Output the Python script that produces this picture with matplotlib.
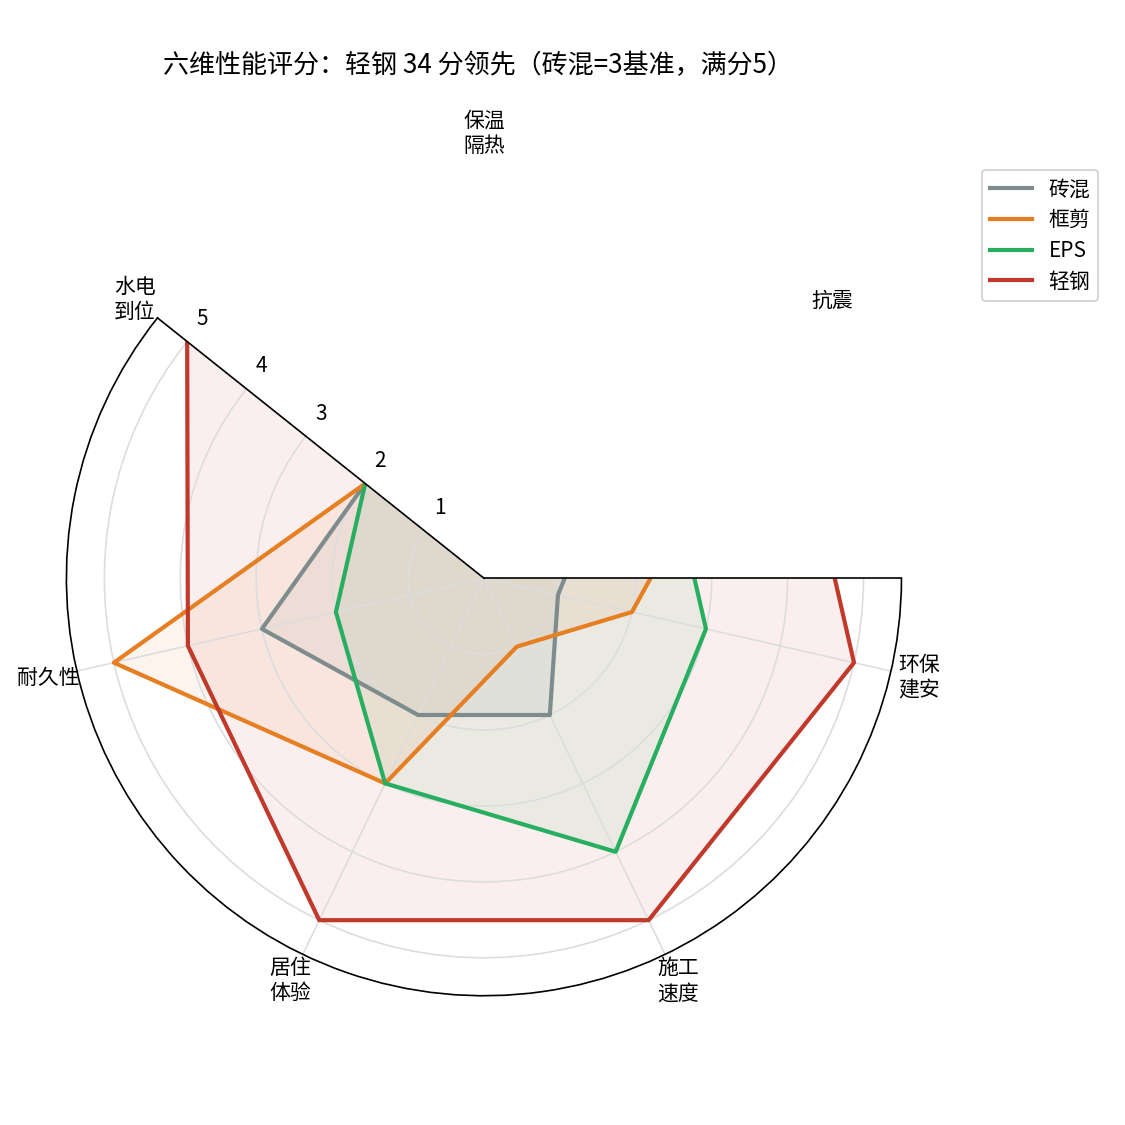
import numpy as np
import matplotlib
matplotlib.use("Agg")
import matplotlib.pyplot as plt

plt.rcParams['font.family'] = ['Noto Sans CJK SC', 'DejaVu Sans']

categories = ['保温\n隔热', '抗震', '环保\n建安', '施工\n速度', '居住\n体验', '耐久性', '水电\n到位']
series_names = ['砖混', '框剪', 'EPS', '轻钢']
brick = [3, 2, 1, 2, 2, 3, 2]
frame = [3, 5, 2, 1, 3, 5, 2]
eps = [5, 3, 3, 4, 3, 2, 2]
steel = [5, 5, 5, 5, 5, 4, 5]
r_ticks = [1, 2, 3, 4, 5]
colors = ['#7f8c8d', '#e67e22', '#27ae60', '#c0392b']
title = '六维性能评分：轻钢 34 分领先（砖混=3基准，满分5）'

n = len(categories)
angles = np.linspace(0, 2 * np.pi, n, endpoint=False)
closed = np.concatenate([angles, angles[:1]])

fig = plt.figure(figsize=(7.5, 7.5), dpi=150)
ax = fig.add_axes([0.0546, 0.0405, 0.7467, 0.7467], projection='polar')
ax.set_theta_offset(np.pi / 2)
ax.set_theta_direction(-1)

for name, vals, c in zip(series_names, [brick, frame, eps, steel], colors):
    v = np.concatenate([vals, vals[:1]])
    ax.plot(closed, v, color=c, linewidth=2, label=name)
    ax.fill(closed, v, color=c, alpha=0.08)

ax.set_ylim(0, 5.5)
ax.set_yticks(r_ticks)
ax.set_yticklabels([str(t) for t in r_ticks], fontsize=10)
ax.set_xticks(angles)
ax.set_xticklabels(categories, fontsize=10)
ax.grid(color='#dddddd', linewidth=0.8)
ax.set_thetamin(90)
ax.set_thetamax(np.degrees(angles[-1]))
ax.yaxis.set_tick_params(label1On=False, label2On=True)

# labels for axes lying outside the drawn wedge
for a, lab in zip(angles[:2], categories[:2]):
    ax.text(a, 5.86, lab, ha='center', va='center', fontsize=10, clip_on=False)

fig.text(0.425, 0.942, title, ha='center', va='center', fontsize=12.5)
fig.legend(loc='upper right', bbox_to_anchor=(0.9857, 0.858), fontsize=10,
           labelspacing=0.42)

fig.savefig('out.png', dpi=150)
